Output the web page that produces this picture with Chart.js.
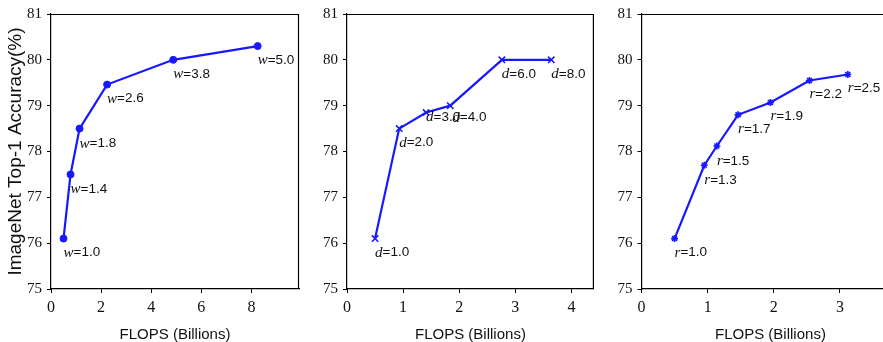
<!DOCTYPE html>
<html><head><meta charset="utf-8">
<script src="https://cdn.jsdelivr.net/npm/chart.js@4"></script>
<style>
html,body{margin:0;padding:0;background:#fff;overflow:hidden}
#wrap{position:relative;width:883px;height:342px;overflow:hidden;background:#fff}
canvas{position:absolute;top:0}
</style></head><body>
<div id="wrap">
<canvas id="c1" width="304" height="342" style="left:0px"></canvas>
<canvas id="c2" width="300" height="342" style="left:300px"></canvas>
<canvas id="c3" width="310" height="342" style="left:595px"></canvas>
</div>
<script>
// ---- data ----
const widthFlops = [0.50, 0.78, 1.14, 2.24, 4.88, 8.25];
const widthAcc   = [76.1, 77.5, 78.5, 79.46, 80.0, 80.3];
const widthCoef  = ['1.0', '1.4', '1.8', '2.6', '3.8', '5.0'];

const depthFlops = [0.50, 0.93, 1.41, 1.84, 2.76, 3.64];
const depthAcc   = [76.1, 78.5, 78.85, 79.0, 80.0, 80.0];
const depthCoef  = ['1.0', '2.0', '3.0', '4.0', '6.0', '8.0'];

const resFlops = [0.50, 0.95, 1.14, 1.46, 1.95, 2.54, 3.12];
const resAcc   = [76.1, 77.7, 78.12, 78.8, 79.07, 79.55, 79.68];
const resCoef  = ['1.0', '1.3', '1.5', '1.7', '1.9', '2.2', '2.5'];

const yTicks = [75, 76, 77, 78, 79, 80, 81];
const yTitle = 'ImageNet Top-1 Accuracy(%)';
const xTitle = 'FLOPS (Billions)';

// label placement tweaks (pixels)
const widthLabelShift = [[0,14],[0,15],[0,15],[0,14],[0,14],[0,14]];
const depthLabelShift = [[0,14],[0,14],[0,5],[2,12],[0,14],[0,14]];
const resLabelShift   = [[0,14],[0,15],[0,15],[0,14],[0,14],[0,14],[0,14]];

const BLUE = '#1818ff';
const INK = '#111';

function makePanel(id, flops, acc, letter, coefs, shifts, ptStyle, ptRadius, ptBorder, xMax, xStep, yWidth, showYTitle) {
  const pts = flops.map((f, i) => ({x: f, y: acc[i]}));
  const frame = {
    id: 'frame',
    afterDraw(chart) {
      const {ctx, chartArea: a} = chart;
      ctx.save();
      ctx.strokeStyle = '#000';
      ctx.lineWidth = 1.2;
      ctx.beginPath();
      ctx.moveTo(a.left, a.top + 0.5);
      ctx.lineTo(a.right - 0.5, a.top + 0.5);
      ctx.lineTo(a.right - 0.5, a.bottom);
      ctx.stroke();
      ctx.restore();
    }
  };
  const labeler = {
    id: 'labeler',
    afterDatasetsDraw(chart) {
      const {ctx} = chart;
      const meta = chart.getDatasetMeta(0);
      ctx.save();
      ctx.fillStyle = INK;
      ctx.textBaseline = 'middle';
      ctx.textAlign = 'left';
      meta.data.forEach((el, i) => {
        const x = el.x + shifts[i][0];
        const y = el.y + shifts[i][1];
        ctx.font = 'italic 15px "Liberation Serif"';
        ctx.fillText(letter, x, y);
        const w = ctx.measureText(letter).width;
        ctx.font = '13.5px "Liberation Sans"';
        ctx.fillText('=' + coefs[i], x + w, y);
      });
      ctx.restore();
    }
  };
  new Chart(document.getElementById(id), {
    type: 'scatter',
    data: {datasets: [{
      data: pts,
      showLine: true,
      borderColor: BLUE,
      backgroundColor: BLUE,
      borderWidth: 2.2,
      pointStyle: ptStyle,
      pointRadius: ptRadius,
      pointBorderWidth: ptBorder,
      pointBorderColor: BLUE,
      pointBackgroundColor: BLUE
    }]},
    options: {
      responsive: false,
      animation: false,
      events: [],
      layout: {padding: {top: 7, right: 0, bottom: 0, left: 0}},
      plugins: {legend: {display: false}, tooltip: {enabled: false}},
      scales: {
        x: {
          type: 'linear', min: 0, max: xMax,
          ticks: {stepSize: xStep, includeBounds: false, color: INK, padding: 5,
                  font: {family: '"Liberation Serif"', size: 16}},
          grid: {display: true, drawOnChartArea: false, drawTicks: true, tickLength: 4, color: '#000'},
          border: {display: true, color: '#000', width: 1.2},
          title: {display: true, text: xTitle, color: INK, padding: {top: 0, bottom: -2},
                  font: {family: '"Liberation Sans"', size: 15}},
          afterFit(s) { s.height = 53; }
        },
        y: {
          type: 'linear', min: yTicks[0], max: yTicks[yTicks.length - 1],
          afterBuildTicks(s) { s.ticks = yTicks.map(v => ({value: v})); },
          ticks: {color: INK, padding: 5, font: {family: '"Liberation Serif"', size: 15}},
          grid: {display: true, drawOnChartArea: false, drawTicks: true, tickLength: 4, color: '#000'},
          border: {display: true, color: '#000', width: 1.2},
          title: {display: showYTitle, text: yTitle, color: INK, padding: 4,
                  font: {family: '"Liberation Sans"', size: 19}},
          afterFit(s) { s.width = yWidth; }
        }
      }
    },
    plugins: [frame, labeler]
  });
}

makePanel('c1', widthFlops, widthAcc, 'w', widthCoef, widthLabelShift, 'circle', 3.5, 1, 9.9, 2, 51, true);
makePanel('c2', depthFlops, depthAcc, 'd', depthCoef, depthLabelShift, 'crossRot', 4.5, 1.6, 4.4, 1, 47, false);
makePanel('c3', resFlops, resAcc, 'r', resCoef, resLabelShift, 'star', 3.5, 1.6, 3.9, 1, 46.5, false);
</script>
</body></html>
